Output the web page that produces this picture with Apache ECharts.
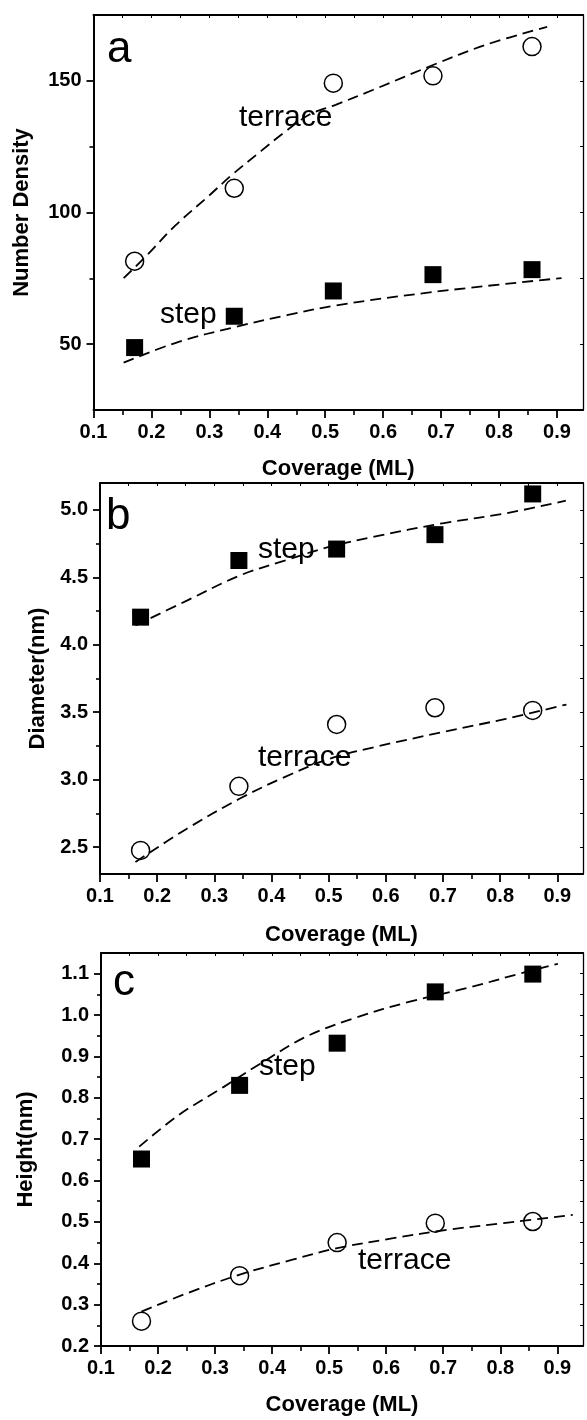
<!DOCTYPE html>
<html><head><meta charset="utf-8">
<script src="https://cdn.jsdelivr.net/npm/echarts@6/dist/echarts.min.js"></script>
<style>html,body{margin:0;padding:0;background:#fff}#c{width:587px;height:1420px}</style>
</head><body><div id="c"></div>
<script>
// ---------- data ----------
const coverage = [0.171, 0.343, 0.514, 0.686, 0.857];

const densTerrace = [81.5, 109.2, 149.1, 151.9, 163.0];
const densStep = [48.7, 60.6, 70.2, 76.4, 78.3];
const densTerraceFitX = [0.152, 0.189, 0.241, 0.299, 0.337, 0.389, 0.428, 0.473, 0.518, 0.583, 0.686, 0.776, 0.883];
const densTerraceFitY = [75.1, 83.0, 95.0, 106.3, 113.9, 123.3, 130.2, 137.2, 140.9, 146.6, 156.0, 163.6, 170.5];
const densStepFitX = [0.152, 0.247, 0.344, 0.434, 0.518, 0.686, 0.908];
const densStepFitY = [43.0, 50.9, 56.5, 61.0, 64.7, 69.8, 75.1];

const diamStep = [4.205, 4.625, 4.71, 4.817, 5.119];
const diamTerrace = [2.475, 2.95, 3.409, 3.533, 3.513];
const diamStepFitX = [0.162, 0.252, 0.344, 0.423, 0.502, 0.58, 0.699, 0.81, 0.915];
const diamStepFitY = [4.143, 4.328, 4.513, 4.624, 4.728, 4.802, 4.901, 4.975, 5.069];
const diamTerraceFitX = [0.162, 0.252, 0.344, 0.423, 0.502, 0.58, 0.699, 0.81, 0.916];
const diamTerraceFitY = [2.389, 2.636, 2.858, 3.019, 3.155, 3.241, 3.352, 3.451, 3.557];

const heightStep = [0.652, 0.83, 0.932, 1.056, 1.099];
const heightTerrace = [0.26, 0.37, 0.45, 0.497, 0.501];
const heightStepFitX = [0.167, 0.237, 0.316, 0.381, 0.46, 0.545, 0.643, 0.741, 0.839, 0.901];
const heightStepFitY = [0.682, 0.759, 0.827, 0.884, 0.948, 0.993, 1.033, 1.065, 1.102, 1.124];
const heightTerraceFitX = [0.171, 0.25, 0.342, 0.434, 0.512, 0.61, 0.708, 0.806, 0.927];
const heightTerraceFitY = [0.283, 0.327, 0.372, 0.408, 0.436, 0.46, 0.481, 0.497, 0.517];

// ticks
const xMajorTicks = [0.1, 0.2, 0.3, 0.4, 0.5, 0.6, 0.7, 0.8, 0.9];
const xMinorTicks = [0.15, 0.25, 0.35, 0.45, 0.55, 0.65, 0.75, 0.85];
const densYTicks = [50, 100, 150];
const densYMinor = [75, 125];
const diamYTicks = [2.5, 3.0, 3.5, 4.0, 4.5, 5.0];
const diamYMinor = [2.75, 3.25, 3.75, 4.25, 4.75];
const heightYTicks = [0.2, 0.3, 0.4, 0.5, 0.6, 0.7, 0.8, 0.9, 1.0, 1.1];
const heightYMinor = [0.25, 0.35, 0.45, 0.55, 0.65, 0.75, 0.85, 0.95, 1.05];

const xTitle = 'Coverage (ML)';
const yTitles = ['Number Density', 'Diameter(nm)', 'Height(nm)'];
const panelLetters = ['a', 'b', 'c'];

// ---------- chart ----------
const FONT = "'Liberation Sans', Arial, Helvetica, sans-serif";
const zip = (xs, ys) => xs.map((x, i) => [x, ys[i]]);
const allX = xMajorTicks.concat(xMinorTicks).sort((a, b) => a - b);

const panels = [
  { grid: {left: 93.5, top: 15, width: 489.5, height: 395}, ymin: 25, ymax: 175,
    yTicks: densYTicks, yMinor: densYMinor, fmt: v => String(Math.round(v)), yGap: 61, xGap: 48,
    terrace: densTerrace, step: densStep,
    fits: [[densTerraceFitX, densTerraceFitY], [densStepFitX, densStepFitY]] },
  { grid: {left: 100, top: 483, width: 483, height: 391}, ymin: 2.3, ymax: 5.2,
    yTicks: diamYTicks, yMinor: diamYMinor, fmt: v => v.toFixed(1), yGap: 50, xGap: 50,
    terrace: diamTerrace, step: diamStep,
    fits: [[diamStepFitX, diamStepFitY], [diamTerraceFitX, diamTerraceFitY]] },
  { grid: {left: 101, top: 953, width: 482, height: 393}, ymin: 0.2, ymax: 1.15,
    yTicks: heightYTicks, yMinor: heightYMinor, fmt: v => v.toFixed(1), yGap: 64, xGap: 48,
    terrace: heightTerrace, step: heightStep,
    fits: [[heightStepFitX, heightStepFitY], [heightTerraceFitX, heightTerraceFitY]] }
];

const grid = [], xAxis = [], yAxis = [], series = [];
const axisLine = {show: true, lineStyle: {color: '#000', width: 2}};
const thinLine = {show: true, lineStyle: {color: '#000', width: 1.3}};
const labelStyle = {color: '#000', fontFamily: FONT, fontWeight: 'bold', fontSize: 20};
const nameStyle = {color: '#000', fontFamily: FONT, fontWeight: 'bold', fontSize: 22};

panels.forEach((p, g) => {
  grid.push(Object.assign({containLabel: false, outerBoundsMode: 'none'}, p.grid));
  const xb = {gridIndex: g, type: 'value', min: 0.1, max: 0.945, splitLine: {show: false}};
  xAxis.push(Object.assign({}, xb, {position: 'bottom', axisLine,
    axisTick: {show: true, customValues: xMajorTicks, length: 8, lineStyle: {color: '#000', width: 1.8}},
    axisLabel: {show: true, customValues: xMajorTicks, formatter: v => v.toFixed(1), margin: 12, ...labelStyle},
    name: xTitle, nameLocation: 'middle', nameGap: p.xGap, nameTextStyle: nameStyle}));
  xAxis.push(Object.assign({}, xb, {position: 'bottom', axisLine: {show: false},
    axisTick: {show: true, customValues: xMinorTicks, length: 5, lineStyle: {color: '#000', width: 1.6}},
    axisLabel: {show: false}}));
  xAxis.push(Object.assign({}, xb, {position: 'top', axisLine,
    axisTick: {show: true, inside: true, customValues: allX, length: 3, lineStyle: {color: '#000', width: 1}},
    axisLabel: {show: false}}));
  const yb = {gridIndex: g, type: 'value', min: p.ymin, max: p.ymax, splitLine: {show: false}};
  const allY = p.yTicks.concat(p.yMinor).sort((a, b) => a - b);
  yAxis.push(Object.assign({}, yb, {position: 'left', axisLine,
    axisTick: {show: true, customValues: p.yTicks, length: 7, lineStyle: {color: '#000', width: 1.8}},
    axisLabel: {show: true, customValues: p.yTicks, formatter: p.fmt, margin: 12, ...labelStyle},
    name: yTitles[g], nameLocation: 'middle', nameGap: p.yGap, nameTextStyle: nameStyle}));
  yAxis.push(Object.assign({}, yb, {position: 'left', axisLine: {show: false},
    axisTick: {show: true, customValues: p.yMinor, length: 4, lineStyle: {color: '#000', width: 1.6}},
    axisLabel: {show: false}}));
  yAxis.push(Object.assign({}, yb, {position: 'right', axisLine: thinLine,
    axisTick: {show: true, inside: true, customValues: allY, length: 3, lineStyle: {color: '#000', width: 1}},
    axisLabel: {show: false}}));

  const xi = 3 * g, yi = 3 * g;
  p.fits.forEach(f => {
    series.push({type: 'line', xAxisIndex: xi, yAxisIndex: yi, data: zip(f[0], f[1]),
      showSymbol: false, smooth: 0.35, z: 3,
      lineStyle: {color: '#000', width: 1.8, type: [11, 6]}});
  });
  series.push({type: 'scatter', xAxisIndex: xi, yAxisIndex: yi, data: zip(coverage, p.terrace),
    symbol: 'circle', symbolSize: 18, z: 2,
    itemStyle: {color: 'rgba(0,0,0,0)', borderColor: '#000', borderWidth: 1.5, opacity: 1}});
  series.push({type: 'scatter', xAxisIndex: xi, yAxisIndex: yi, data: zip(coverage, p.step),
    symbol: 'rect', symbolSize: 17, z: 4, itemStyle: {color: '#000', opacity: 1}});
});

function txt(s, x, baseline, size) {
  return {type: 'text', x: x, y: baseline - 0.3465 * size, z: 10,
    style: {text: s, fill: '#000', font: size + 'px ' + FONT,
      align: 'left', verticalAlign: 'middle', textAlign: 'left', textVerticalAlign: 'middle'}};
}
const graphic = [
  txt(panelLetters[0], 107, 65, 44),
  txt('terrace', 239, 128, 30),
  txt('step', 160, 325, 30),
  txt(panelLetters[1], 106, 531.7, 44),
  txt('step', 258, 560, 30),
  txt('terrace', 258, 768, 30),
  txt(panelLetters[2], 113, 998, 44),
  txt('step', 259, 1077, 30),
  txt('terrace', 358, 1271, 30)
];

const chart = echarts.init(document.getElementById('c'), null, {renderer: 'canvas'});
chart.setOption({animation: false, backgroundColor: '#fff', grid, xAxis, yAxis, series, graphic});
</script></body></html>
